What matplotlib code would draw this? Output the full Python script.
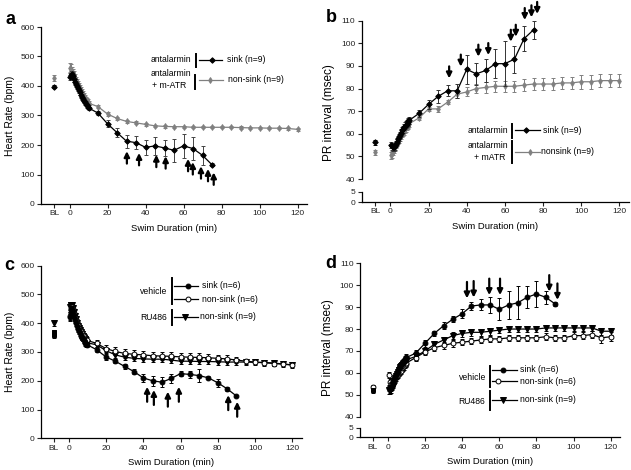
import matplotlib.pyplot as plt
from matplotlib.lines import Line2D

# -------------------------
# Data
# -------------------------

BL_X = -8
t_early = [0.5, 1.0, 1.5, 2.0, 2.5, 3.0, 3.5, 4.0, 4.5, 5.0,
           5.5, 6.0, 6.5, 7.0, 7.5, 8.0, 8.5, 9.0, 9.5, 10.0]
t_75 = [15, 20, 25, 30, 35, 40, 45, 50, 55, 60, 65, 70, 75]
t_90 = [15, 20, 25, 30, 35, 40, 45, 50, 55, 60, 65, 70, 75, 80, 85, 90]
t_120 = [15, 20, 25, 30, 35, 40, 45, 50, 55, 60, 65, 70, 75, 80, 85, 90,
         95, 100, 105, 110, 115, 120]

x_labels = ['BL', '0', '20', '40', '60', '80', '100', '120']
x_ticks = [BL_X, 0, 20, 40, 60, 80, 100, 120]

# panel a: heart rate, antalarmin
a_sink_bl, a_sink_bl_err = 398, 6
a_non_bl, a_non_bl_err = 428, 10
a_sink = [432, 438, 440, 435, 425, 415, 408, 400, 393, 385, 378, 370, 363, 356, 350, 345, 340, 335, 330, 326,
          308, 272, 242, 213, 208, 192, 197, 190, 182, 197, 188, 165, 133]
a_sink_err = [12, 12, 12, 11, 11, 10, 10, 10, 10, 9, 9, 9, 9, 8, 8, 8, 8, 8, 8, 8,
              8, 12, 15, 22, 22, 25, 30, 28, 38, 40, 38, 32, 5]
a_non = [462, 458, 452, 445, 437, 428, 420, 413, 406, 400, 393, 386, 380, 373, 367, 362, 356, 351, 347, 342,
         330, 305, 290, 280, 275, 270, 265, 263, 262, 262, 260, 260, 260, 260, 260, 259, 258, 258, 257, 257, 256, 253]
a_non_err = [15, 15, 14, 14, 13, 13, 12, 12, 11, 11, 10, 10, 10, 9, 9, 9, 8, 8, 8, 8,
             6, 6, 5, 5, 5, 4, 4, 4, 4, 4, 4, 4, 4, 4, 4, 4, 4, 4, 4, 4, 4, 4]
a_arrow_x = [30.2, 36.6, 45.7, 50.6, 62.4, 64.9, 69.2, 72.9, 75.9]
a_arrow_tip = [179, 173, 167, 162, 153, 142, 128, 119, 107]

# panel b: PR interval, antalarmin
b_sink_bl, b_sink_bl_err = 56.2, 1.0
b_non_bl, b_non_bl_err = 51.8, 1.0
b_sink = [55, 54.5, 54, 54, 54.5, 55.5, 56.5, 57.5, 58.5, 59.5, 60.5, 61.5, 62, 63, 63.5, 64, 64.5, 65, 65.5, 66,
          69, 73, 76.5, 79, 79, 88.5, 86.5, 88, 91, 91, 93, 102, 106]
b_sink_err = [1.5, 1.5, 1.5, 1.5, 1.5, 1.5, 1.5, 1.5, 1.5, 1.5, 1.5, 1.5, 1.5, 1.5, 1.5, 1.5, 1.5, 1.5, 1.5, 1.5,
              1.5, 2, 3, 2.5, 3, 6.5, 5, 5, 6.5, 10, 6, 5.5, 4]
b_non = [50.5, 51, 52, 53, 54, 55, 56, 57, 57.5, 58.5, 59, 60, 60.5, 61, 62, 62.5, 63, 63.5, 64, 64.5,
         67, 71, 71, 74, 77.5, 78.5, 80, 80.5, 81, 81, 81, 81.5, 82, 82, 82, 82.5, 82.5, 83, 83, 83.5, 83.5, 83.5]
b_non_err = [1.5, 1.5, 1.5, 1.5, 1.5, 1.5, 1.5, 1.5, 1.5, 1.5, 1.5, 1.5, 1.5, 1.5, 1.5, 1.5, 1.5, 1.5, 1.5, 1.5,
             1, 1, 1.5, 1, 1.5, 2, 2, 2.5, 2.5, 2.5, 2.5, 2.5, 2.5, 2.5, 2.5, 2.5, 2.5, 3, 3, 3, 3, 3]
b_arrow_x = [30.8, 36.9, 46.1, 51.3, 63.1, 65.7, 70.4, 73.9, 76.9]
b_arrow_tip = [84.5, 89.7, 94.1, 94.8, 100.7, 102.9, 110.3, 111.5, 113]

# panel c: heart rate, vehicle / RU486
c_sink_bl, c_non_bl, c_ru_bl = 360, 368, 400
c_sink = [420, 435, 448, 450, 440, 425, 412, 400, 390, 380, 372, 365, 357, 350, 345, 340, 335, 330, 327, 325,
          308, 283, 268, 250, 232, 210, 200, 195, 208, 225, 222, 218, 210, 193, 172, 147]
c_sink_err = [12, 12, 12, 11, 11, 10, 10, 10, 10, 9, 9, 9, 9, 8, 8, 8, 8, 8, 8, 8,
              8, 10, 7, 8, 10, 15, 18, 18, 15, 10, 12, 22, 5, 14, 6, 4]
c_non = [425, 440, 450, 455, 448, 435, 422, 412, 402, 393, 385, 378, 372, 366, 360, 355, 350, 346, 342, 340,
         330, 312, 302, 295, 292, 290, 287, 286, 285, 283, 282, 281, 280, 278, 276, 272, 268, 265, 263, 260, 258, 255]
c_non_err = [14, 14, 14, 13, 13, 12, 12, 12, 12, 12, 12, 12, 12, 12, 12, 12, 12, 12, 12, 12,
             12, 12, 14, 15, 15, 15, 14, 14, 14, 14, 14, 14, 13, 12, 12, 10, 9, 8, 8, 8, 8, 8]
c_ru = [455, 462, 465, 462, 452, 438, 425, 413, 402, 392, 384, 376, 368, 361, 355, 349, 344, 339, 335, 332,
        325, 305, 290, 282, 278, 276, 275, 275, 272, 268, 268, 267, 267, 266, 265, 265, 265, 264, 263, 262, 258, 255]
c_ru_err = [10] * 42
c_arrow_x = [42.1, 45.7, 53.2, 59.1, 85.6, 90.4]
c_arrow_tip = [179, 168, 162, 179, 150, 127]

# panel d: PR interval, vehicle / RU486
d_sink_bl, d_non_bl, d_ru_bl = 52.0, 53.5, 52.5
d_sink = [53, 52.5, 53, 54, 55, 56, 57, 58, 59, 60, 61, 62, 63, 63.5, 64.5, 65, 65.5, 66, 66.5, 67,
          69, 73.5, 78, 81.5, 84.5, 87, 90.5, 91, 91, 89, 91, 92, 94.5, 96, 94.5, 91.5]
d_sink_err = [1.5, 1.5, 1.5, 1.5, 1.5, 1.5, 1.5, 1.5, 1.5, 1.5, 1.5, 1.5, 1.5, 1.5, 1.5, 1.5, 1.5, 1.5, 1.5, 1.5,
              1.5, 1.5, 1, 1.5, 1.5, 2, 2, 2.5, 3.5, 5, 6.5, 7.5, 5, 6, 3, 1]
d_non = [59, 56, 55, 55, 55.5, 56, 56.5, 57, 58, 58.5, 59, 60, 60.5, 61, 62, 62.5, 63, 63.5, 64, 64.5,
         67, 69.5, 71.5, 72.5, 73.5, 74, 74.5, 75, 75.5, 75.5, 76, 76, 76, 76, 76.5, 76, 76, 77, 77, 77.5, 76, 76.5]
d_non_err = [1.5] * 40 + [2.5, 2]
d_ru = [52, 52, 52.5, 53.5, 54.5, 55.5, 56.5, 57.5, 58.5, 59.5, 60.5, 61.5, 62.5, 63, 63.5, 64, 64.5, 65, 65.5, 66,
        67.5, 70, 73, 75, 77, 78, 78.5, 78.5, 79, 79.5, 80, 80, 80, 80, 80.5, 80.5, 80.5, 80.5, 80.5, 80.5, 79, 79]
d_ru_err = [1.5] * 42
d_arrow_x = [42.6, 46.2, 54.6, 60.4, 86.9, 91.3]
d_arrow_tip = [94.0, 94.4, 95.5, 95.5, 97.1, 93.3]

# -------------------------
# Figure helpers
# -------------------------

W, H = 631, 470
plt.rcParams['font.family'] = ['Liberation Sans', 'DejaVu Sans']
fig = plt.figure(figsize=(W / 100, H / 100), dpi=100)

GRAY = '#808080'
TICK_FS = 6
LEG_FS = 6.2
XLAB_FS = 6.8


def add_ax(l, t, r, b):
    return fig.add_axes([l / W, 1 - b / H, (r - l) / W, (b - t) / H])


def style(ax):
    for s in ['top', 'right']:
        ax.spines[s].set_visible(False)
    for s in ['left', 'bottom']:
        ax.spines[s].set_linewidth(0.9)
    ax.tick_params(labelsize=TICK_FS, length=3, width=0.8, pad=1.5, colors='#222222')
    ax.patch.set_alpha(0)


def set_xaxis(ax):
    ax.set_xlim(-15, 125)
    ax.set_xticks(x_ticks)
    ax.set_xticklabels(x_labels)


def series(ax, t, v, e, color, marker, ms, mfc=None, ecolor=None, zorder=3):
    ax.errorbar(t, v, yerr=e, color=color, marker=marker, ms=ms,
                mfc=mfc if mfc else color, mec=color, mew=0.7, lw=0.9,
                ecolor=ecolor if ecolor else color, elinewidth=0.7,
                capsize=1.6, capthick=0.7, zorder=zorder, clip_on=False)


def arrows(ax, xs, tips, length, up=True):
    for x, tip in zip(xs, tips):
        tail = tip - length if up else tip + length
        ax.annotate('', xy=(x, tip), xytext=(x, tail), annotation_clip=False,
                    arrowprops=dict(arrowstyle='-|>', color='k', lw=1.6,
                                    mutation_scale=8, shrinkA=0, shrinkB=0))


def ftext(x, y, s, ha='left', size=LEG_FS, **kw):
    fig.text(x / W, 1 - y / H, s, ha=ha, va='center', fontsize=size, **kw)


def fline(x1, x2, y, color='k', marker=None, mx=None, ms=3, mfc=None):
    fig.add_artist(Line2D([x1 / W, x2 / W], [1 - y / H, 1 - y / H],
                          transform=fig.transFigure, color=color, lw=0.9))
    if marker:
        fig.add_artist(Line2D([mx / W], [1 - y / H], transform=fig.transFigure,
                              marker=marker, ms=ms, color=color,
                              mfc=mfc if mfc else color, mec=color, mew=0.7))


def fbar(x, y1, y2):
    fig.add_artist(Line2D([x / W, x / W], [1 - y1 / H, 1 - y2 / H],
                          transform=fig.transFigure, color='k', lw=1.4))


def broken_axes(l, t, r, b_main, t_low, b_low, ylim, yticks):
    ax = add_ax(l, t, r, b_main)
    low = add_ax(l, t_low, r, b_low)
    for a in (ax, low):
        style(a)
        set_xaxis(a)
    ax.spines['bottom'].set_visible(False)
    ax.tick_params(axis='x', bottom=False, labelbottom=False)
    ax.set_ylim(*ylim)
    ax.set_yticks(yticks)
    low.set_ylim(0, 5)
    low.set_yticks([0, 5])
    return ax, low


# -------------------------
# Panel a
# -------------------------

ax = add_ax(41, 27, 307, 204)
style(ax)
set_xaxis(ax)
ax.set_ylim(0, 600)
ax.set_yticks(range(0, 700, 100))
series(ax, t_early + t_120, a_non, a_non_err, GRAY, 'd', 3)
series(ax, t_early + t_75, a_sink, a_sink_err, 'k', 'D', 2.8, ecolor='#444444', zorder=4)
series(ax, [BL_X], [a_non_bl], [a_non_bl_err], GRAY, 'd', 3)
series(ax, [BL_X], [a_sink_bl], [a_sink_bl_err], 'k', 'D', 2.8)
arrows(ax, a_arrow_x, a_arrow_tip, 42, up=True)
ax.set_ylabel('Heart Rate (bpm)', fontsize=7.5, labelpad=4)
ax.set_xlabel('Swim Duration (min)', fontsize=XLAB_FS, labelpad=5)
ftext(10, 19, 'a', ha='center', size=13, fontweight='bold')

ftext(191, 60, 'antalarmin', ha='right')
fbar(196.5, 54, 67)
fline(199, 222, 60, 'k', 'D', 212, 2.8)
ftext(227, 60, 'sink (n=9)')
ftext(191, 73, 'antalarmin', ha='right')
ftext(186, 86, '+ m-ATR', ha='right')
fbar(195, 75, 89)
fline(199, 223, 80, GRAY, 'd', 210, 3)
ftext(228, 80, 'non-sink (n=9)')

# -------------------------
# Panel b
# -------------------------

ax, low = broken_axes(361.7, 20.7, 629, 179, 192, 202, (40, 110), range(40, 120, 10))
series(ax, t_early + t_120, b_non, b_non_err, GRAY, 'd', 3)
series(ax, t_early + t_75, b_sink, b_sink_err, 'k', 'D', 2.8, ecolor='#333333', zorder=4)
series(ax, [BL_X], [b_non_bl], [b_non_bl_err], GRAY, 'd', 3)
series(ax, [BL_X], [b_sink_bl], [b_sink_bl_err], 'k', 'D', 2.8)
arrows(ax, b_arrow_x, b_arrow_tip, 5.3, up=False)
ax.set_ylabel('PR interval (msec)', fontsize=8.5)
ax.yaxis.set_label_coords(-0.1, 0.42)
low.set_xlabel('Swim Duration (min)', fontsize=XLAB_FS, labelpad=5)
ftext(331, 17, 'b', ha='center', size=13, fontweight='bold')

ftext(508, 130, 'antalarmin', ha='right')
fbar(512, 124, 138)
fline(515, 540, 130, 'k', 'D', 526, 2.8)
ftext(543, 130, 'sink (n=9)')
ftext(508, 146, 'antalarmin', ha='right')
ftext(505, 157.5, '+ mATR', ha='right')
fbar(512, 141, 163)
fline(515, 540, 151.5, GRAY, 'd', 530, 3)
ftext(541, 151.5, 'nonsink (n=9)')

# -------------------------
# Panel c
# -------------------------

ax = add_ax(40.7, 265.7, 301.7, 438.3)
style(ax)
set_xaxis(ax)
ax.set_ylim(0, 600)
ax.set_yticks(range(0, 700, 100))
series(ax, t_early + t_120, c_ru, c_ru_err, 'k', 'v', 4)
series(ax, t_early + t_120, c_non, c_non_err, 'k', 'o', 3.5, mfc='white', zorder=4)
series(ax, t_early + t_90, c_sink, c_sink_err, 'k', 'o', 3.5, zorder=5)
series(ax, [BL_X], [c_ru_bl], [8], 'k', 'v', 4)
series(ax, [BL_X], [c_non_bl], [10], 'k', 's', 3)
series(ax, [BL_X], [c_sink_bl], [10], 'k', 's', 3)
arrows(ax, c_arrow_x, c_arrow_tip, 52, up=True)
ax.set_ylabel('Heart Rate (bpm)', fontsize=7.5, labelpad=4)
ax.set_xlabel('Swim Duration (min)', fontsize=XLAB_FS, labelpad=5)
ftext(9, 266, 'c', ha='center', size=13, fontweight='bold')

ftext(167, 292, 'vehicle', ha='right')
fbar(171.5, 278, 304)
fline(174, 198, 285.5, 'k', 'o', 188, 3.5)
ftext(202, 285.5, 'sink (n=6)')
fline(174, 198, 299, 'k', 'o', 188, 3.5, mfc='white')
ftext(202, 299, 'non-sink (n=6)')
ftext(167, 318, 'RU486', ha='right')
fbar(171.5, 310, 325)
fline(174, 198, 316.5, 'k', 'v', 185, 4)
ftext(200, 316.5, 'non-sink (n=9)')

# -------------------------
# Panel d
# -------------------------

ax, low = broken_axes(360, 263.3, 620, 416.7, 427.7, 437.3, (40, 110), range(40, 120, 10))
series(ax, t_early + t_120, d_ru, d_ru_err, 'k', 'v', 4)
series(ax, t_early + t_120, d_non, d_non_err, 'k', 'o', 3.5, mfc='white', zorder=4)
series(ax, t_early + t_90, d_sink, d_sink_err, 'k', 'o', 3.5, zorder=5)
series(ax, [BL_X], [d_non_bl], [1], 'k', 'o', 3.5, mfc='white')
series(ax, [BL_X], [d_sink_bl], [1], 'k', 's', 3)
arrows(ax, d_arrow_x, d_arrow_tip, 7.5, up=False)
ax.set_ylabel('PR interval (msec)', fontsize=8.5)
ax.yaxis.set_label_coords(-0.1, 0.45)
low.set_xlabel('Swim Duration (min)', fontsize=XLAB_FS, labelpad=5)
ftext(331, 263, 'd', ha='center', size=13, fontweight='bold')

ftext(486, 377, 'vehicle', ha='right')
fbar(490, 366, 387)
fline(492, 517, 370, 'k', 'o', 503, 3.5)
ftext(520, 370, 'sink (n=6)')
fline(492, 517, 381, 'k', 'o', 498, 3.5, mfc='white')
ftext(520, 381, 'non-sink (n=6)')
ftext(485, 402, 'RU486', ha='right')
fbar(490, 391, 410)
fline(492, 517, 400, 'k', 'v', 503, 4)
ftext(520, 400, 'non-sink (n=9)')

fig.savefig('out.png', dpi=100)
